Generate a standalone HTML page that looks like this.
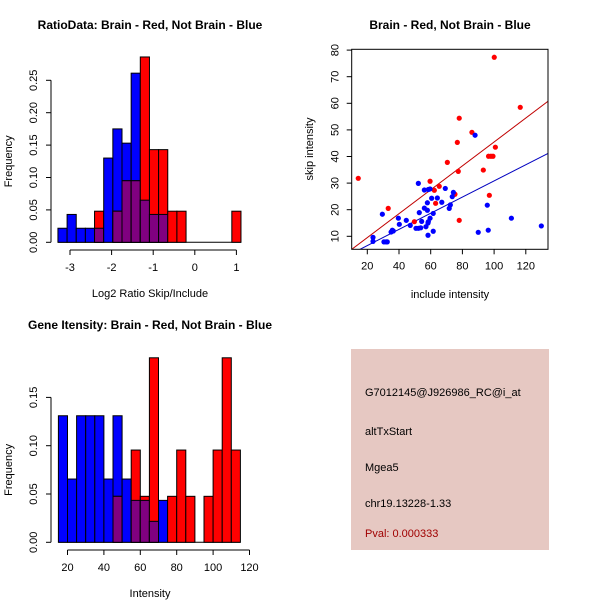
<!DOCTYPE html>
<html><head><meta charset="utf-8"><style>
body{margin:0;background:#fff}
svg{display:block;font-family:"Liberation Sans",sans-serif}
</style></head><body>
<svg id="s" width="600" height="600" viewBox="0 0 600 600">
<g id="h1"></g>
<g id="sc"></g>
<g id="h2"></g>
<g>
<rect x="351" y="349" width="198" height="201" fill="#e6c8c2"/>
<g font-size="11" fill="#000">
<text x="365" y="396">G7012145@J926986_RC@i_at</text>
<text x="365" y="435">altTxStart</text>
<text x="365" y="471">Mgea5</text>
<text x="365" y="507">chr19.13228-1.33</text>
<text x="365" y="537" fill="#a00000">Pval: 0.000333</text>
</g></g>
</svg>
<script>
const NS="http://www.w3.org/2000/svg";
// ---- Ratio histogram data
const ratioBinStart=-3.29, ratioBinWidth=0.22;
const ratioBlue=[0.0217,0.043,0.0217,0.0217,0.0217,0.13,0.175,0.153,0.261,0.065,0.043,0.043,0,0,0,0,0,0,0,0];
const ratioRed=[0,0,0,0,0.048,0,0.048,0.095,0.095,0.286,0.143,0.143,0.048,0.048,0,0,0,0,0,0.048];
const ratioXTicks=[-3,-2,-1,0,1];
const ratioYTicks=["0.00","0.05","0.10","0.15","0.20","0.25"];
// ---- Intensity histogram data
const intBinStart=15, intBinWidth=5;
const intBlue=[0.131,0.0655,0.131,0.131,0.131,0.0655,0.131,0.0655,0.0434,0.0434,0.0217,0.0434,0,0,0,0,0,0,0,0];
const intRed=[0,0,0,0,0,0,0.0476,0,0.0955,0.0476,0.191,0,0.0476,0.0955,0.0476,0,0.0476,0.0955,0.191,0.0955];
const intXTicks=[20,40,60,80,100,120];
const intYTicks=["0.00","0.05","0.10","0.15"];
// ---- Scatter data
const redX=[14.3,100.1,116.5,78,86,76.8,100.8,96.5,98,99.3,70.5,77.4,93.2,59.6,65.4,62.3,75.3,97,63.1,33.2,78,49.7];
const redY=[31.8,77.3,58.5,54.4,49.1,45.3,43.5,40.1,40.1,40.1,37.8,34.4,34.9,30.7,28.8,27.3,25.8,25.4,22.4,20.5,16,15.5];
const blueX=[88,52.2,56,58.5,59.6,69.2,74.3,73.6,64.2,67,60.6,57.9,72.4,71.7,95.7,56,57.9,52.8,61.6,29.5,39.6,110.9,59.6,44.6,54.3,58.5,58.3,40.2,47.1,52.2,50.7,53.7,57,35.8,36.4,35,61.6,96.3,90,129.8,58.3,23.6,23.6,30.5,31.9,32.6];
const blueY=[48,29.9,27.4,27.6,27.8,28,26.5,24.9,24.4,22.8,24.3,22.6,21.8,20.5,21.7,20.6,19.8,18.9,18.6,18.3,16.8,16.8,16.8,16,15.6,15.5,15,14.5,14.1,13,13,13.2,13.6,12.3,12,11.6,11.9,12.3,11.5,13.9,10.4,9.6,8.1,7.9,7.9,7.9];
const fitSlope=[0.4495,0.304], fitIntercept=[0.52,0.42];
const scXTicks=[20,40,60,80,100,120], scYTicks=[10,20,30,40,50,60,70,80];

function el(tag,attrs,parent,txt){const e=document.createElementNS(NS,tag);for(const k in attrs)e.setAttribute(k,attrs[k]);if(txt!==undefined)e.textContent=txt;parent.appendChild(e);return e;}

function hist(g,o){
  const sx=v=>o.x0+(v-o.v0)*o.kx, sy=v=>o.y0-v*o.ky;
  el('text',{x:o.tx,y:o.ty,'font-size':12,'font-weight':'bold','text-anchor':'middle'},g,o.title);
  el('line',{x1:sx(o.bs),x2:sx(o.bs+o.blue.length*o.bw),y1:sy(0),y2:sy(0),stroke:'#000'},g);
  for(let i=0;i<o.blue.length;i++){
    const a=sx(o.bs+i*o.bw), b=sx(o.bs+(i+1)*o.bw);
    const bl=o.blue[i], rd=o.red[i], m=Math.min(bl,rd);
    const r1=el('rect',{x:a,y:sy(bl),width:b-a,height:bl*o.ky,fill:'#0000ff',stroke:'#000','stroke-width':1},g);
    
    
    const r2=el('rect',{x:a,y:sy(rd),width:b-a,height:rd*o.ky,fill:'#ff0000',stroke:'#000','stroke-width':1},g);
    
    
    if(m>0){const r3=el('rect',{x:a,y:sy(m),width:b-a,height:m*o.ky,fill:'#800080',stroke:'#000','stroke-width':1},g);
    
    }
  }
  const yt=o.yt;
  el('line',{x1:o.ax,x2:o.ax,y1:sy(0),y2:sy(parseFloat(yt[yt.length-1])),stroke:'#000'},g);
  yt.forEach(t=>{const y=sy(parseFloat(t));el('line',{x1:o.ax-5,x2:o.ax,y1:y,y2:y,stroke:'#000'},g);
    const tx=el('text',{x:0,y:0,'font-size':11,'text-anchor':'middle',transform:`translate(${o.ax-14},${y}) rotate(-90)`},g,t);
    
    });
  const xt=o.xt;
  el('line',{x1:sx(xt[0]),x2:sx(xt[xt.length-1]),y1:o.ay,y2:o.ay,stroke:'#000'},g);
  xt.forEach(t=>{const x=sx(t);el('line',{x1:x,x2:x,y1:o.ay,y2:o.ay+5,stroke:'#000'},g);
    const tx=el('text',{x:x,y:o.ay+21,'font-size':11,'text-anchor':'middle'},g,String(t));
    
    });
  el('text',{x:o.tx,y:o.ay+47,'font-size':11,'text-anchor':'middle'},g,o.xlab);
  el('text',{x:0,y:0,'font-size':11,'text-anchor':'middle',transform:`translate(12,${(sy(0)+sy(parseFloat(yt[yt.length-1])))/2}) rotate(-90)`},g,'Frequency');
}
hist(document.getElementById('h1'),{title:'RatioData: Brain - Red, Not Brain - Blue',tx:150,ty:29,x0:70,v0:-3,kx:41.6,y0:242.3,ky:648,
  bs:ratioBinStart,bw:ratioBinWidth,blue:ratioBlue,red:ratioRed,yt:ratioYTicks,xt:ratioXTicks,ax:51,ay:250,xlab:'Log2 Ratio Skip/Include'});
hist(document.getElementById('h2'),{title:'Gene Itensity: Brain - Red, Not Brain - Blue',tx:150,ty:329,x0:67.5,v0:20,kx:1.82,y0:542.3,ky:966,
  bs:intBinStart,bw:intBinWidth,blue:intBlue,red:intRed,yt:intYTicks,xt:intXTicks,ax:51,ay:550,xlab:'Intensity'});

(function(){
  const g=document.getElementById('sc');
  const sx=v=>367.3+(v-20)*1.585, sy=v=>236.3-(v-10)*2.66;
  const L=351.7,T=49.3,R=548,B=249.3;
  el('text',{x:450,y:29,'font-size':12,'font-weight':'bold','text-anchor':'middle'},g,'Brain - Red, Not Brain - Blue');
  const cp=el('clipPath',{id:'cp'},g);el('rect',{x:L,y:T,width:R-L,height:B-T},cp);
  const pts=el('g',{'clip-path':'url(#cp)'},g);
  [0,1].forEach(k=>{
    const v1=(L-367.3)/1.585+20, v2=(R-367.3)/1.585+20;
    const ln=el('line',{x1:L,x2:R,y1:sy(fitIntercept[k]+fitSlope[k]*v1),y2:sy(fitIntercept[k]+fitSlope[k]*v2),stroke:k?'#0000c0':'#c00000','stroke-width':1},pts);
    
    });
  redX.forEach((x,i)=>{const c=el('circle',{cx:sx(x),cy:sy(redY[i]),r:2.6,fill:'#ff0000'},pts);
    
    });
  blueX.forEach((x,i)=>{const c=el('circle',{cx:sx(x),cy:sy(blueY[i]),r:2.6,fill:'#0000ff'},pts);
    
    });
  el('rect',{x:L,y:T,width:R-L,height:B-T,fill:'none',stroke:'#000'},g);
  scXTicks.forEach(t=>{const x=sx(t);el('line',{x1:x,x2:x,y1:B,y2:B+5,stroke:'#000'},g);
    const tx=el('text',{x:x,y:B+20,'font-size':11,'text-anchor':'middle'},g,t);
    
    });
  scYTicks.forEach(t=>{const y=sy(t);el('line',{x1:L-5,x2:L,y1:y,y2:y,stroke:'#000'},g);
    const tx=el('text',{x:0,y:0,'font-size':11,'text-anchor':'middle',transform:`translate(${L-13},${y}) rotate(-90)`},g,t);
    
    });
  el('text',{x:450,y:298,'font-size':11,'text-anchor':'middle'},g,'include intensity');
  el('text',{x:0,y:0,'font-size':11,'text-anchor':'middle',transform:'translate(313,149) rotate(-90)'},g,'skip intensity');
})();
</script>
</body></html>
